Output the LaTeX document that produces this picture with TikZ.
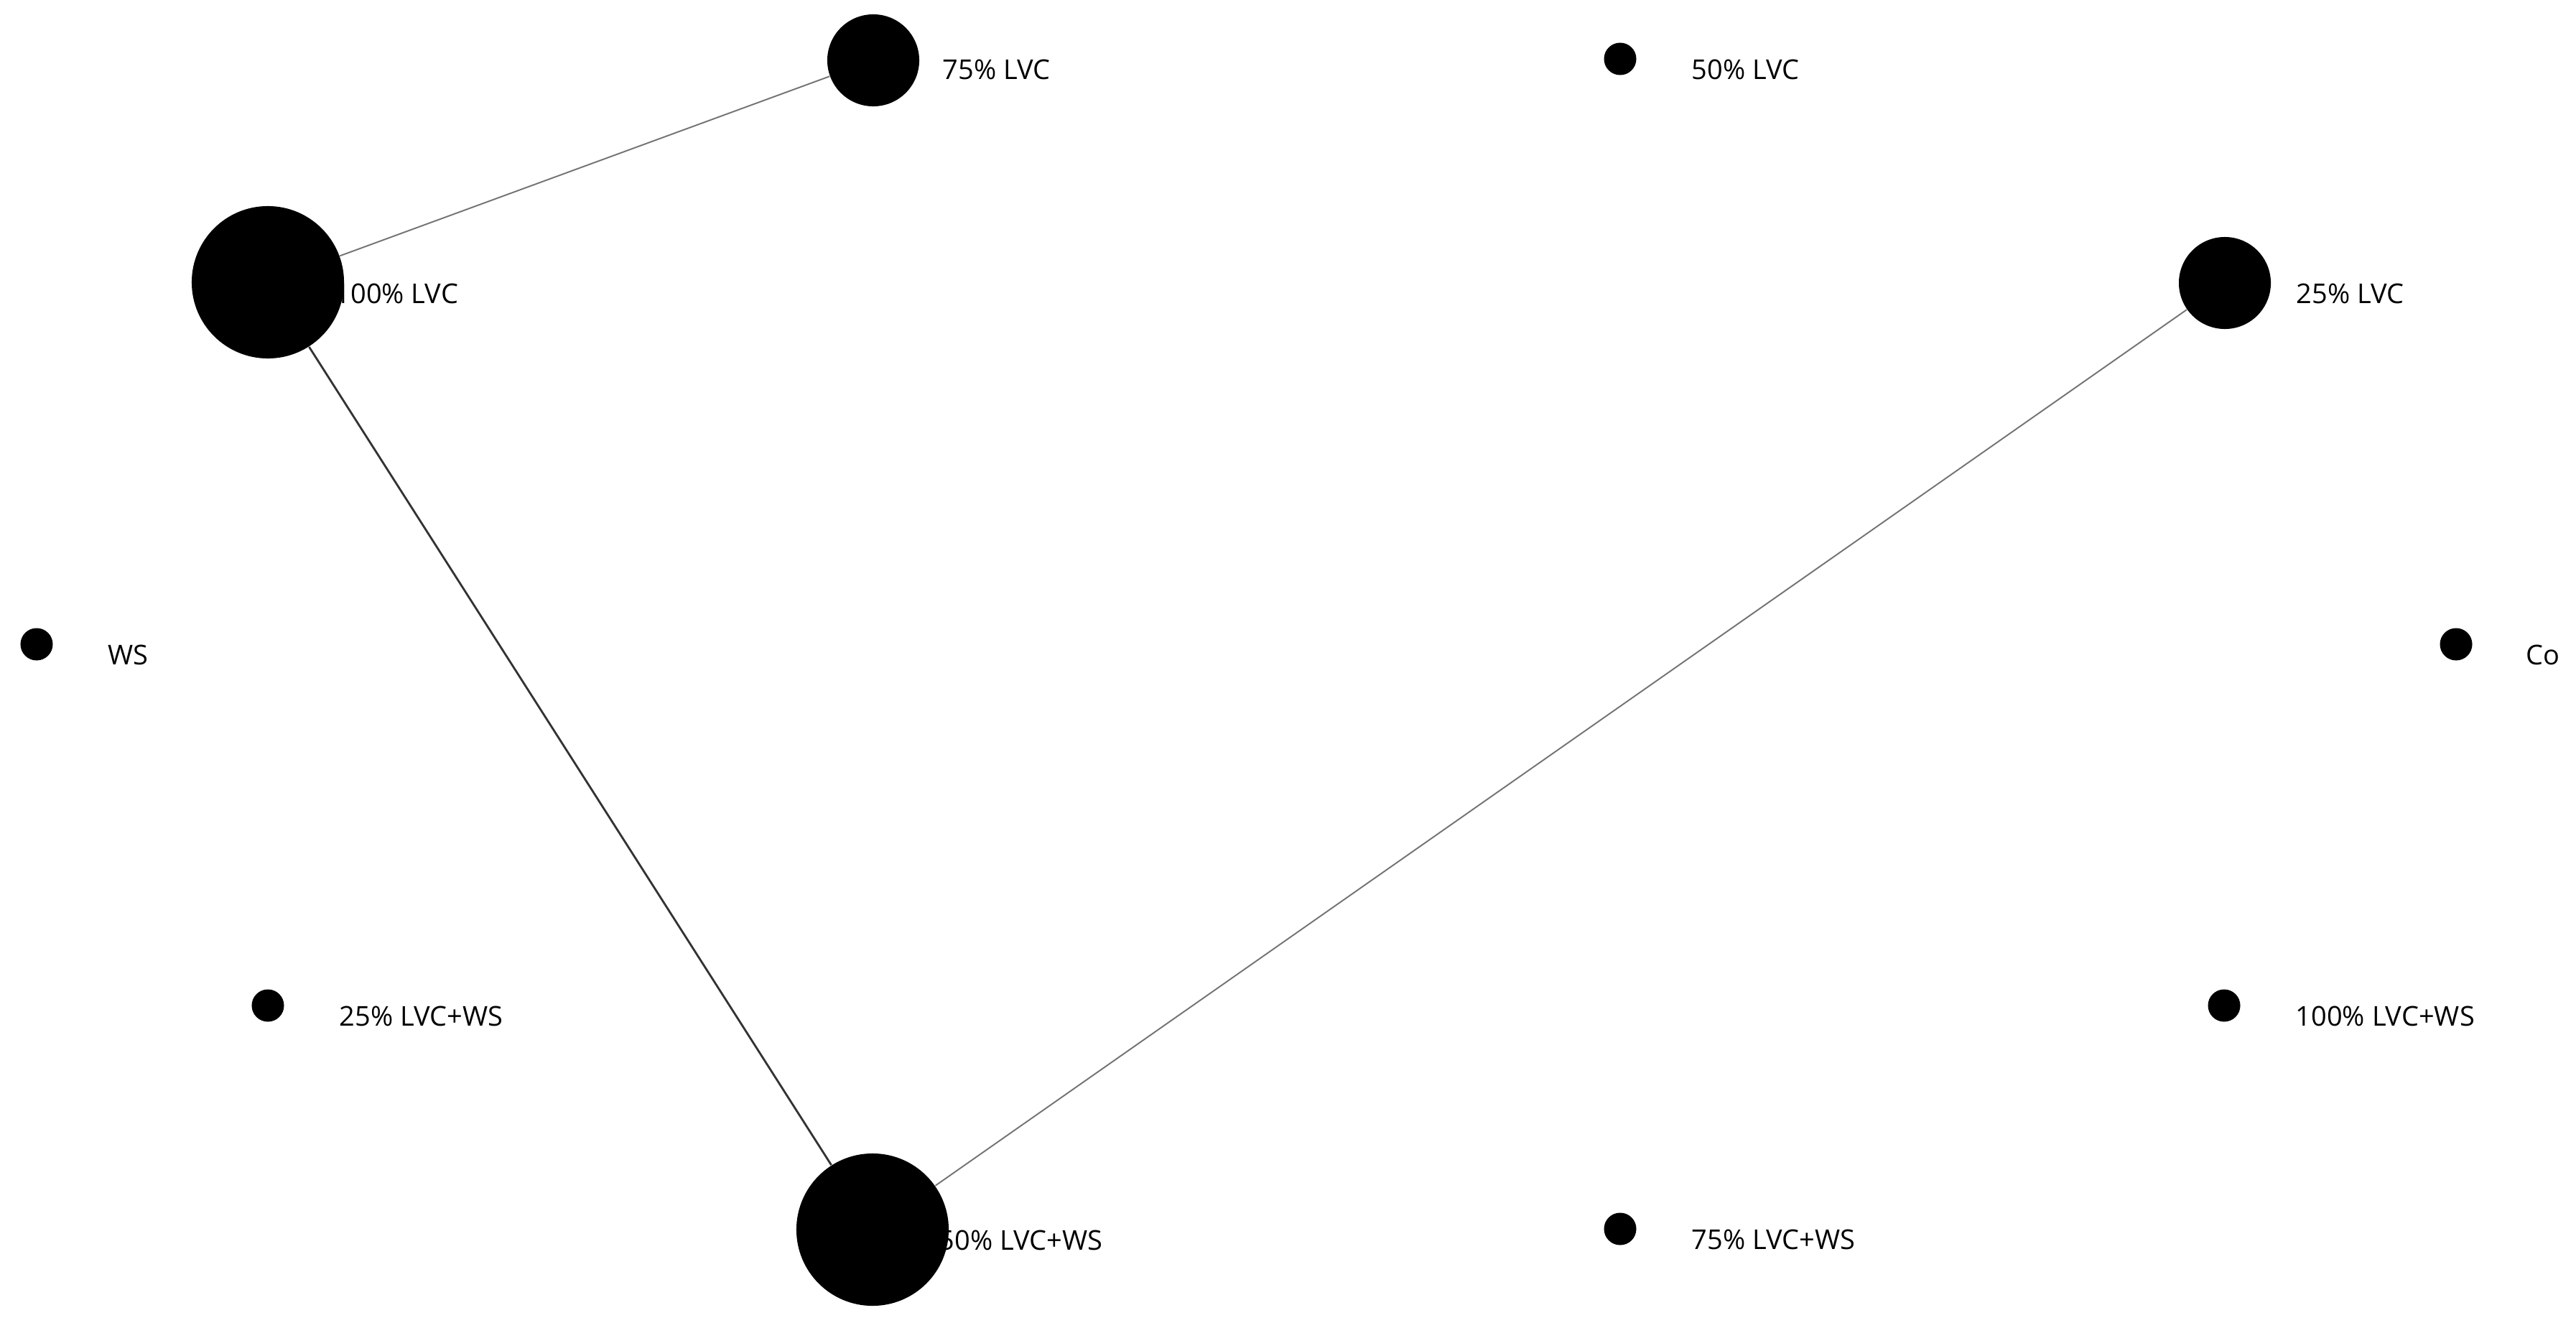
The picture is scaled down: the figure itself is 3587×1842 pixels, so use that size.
\documentclass[tikz,border=0pt]{standalone}
\usepackage{fontspec}
\setmainfont{Open Sans}
\usetikzlibrary{calc,backgrounds}
\begin{document}
\begin{tikzpicture}[x=0.01cm,y=-0.01cm,
  dot/.style={circle,fill=black,draw=none,inner sep=0pt},
  big/.style={dot,minimum size=2.12cm},
  mid/.style={dot,minimum size=1.28cm},
  small/.style={dot,minimum size=0.45cm},
  lbl/.style={anchor=base west,inner sep=0pt,font=\fontsize{10.8}{13}\selectfont},
  thinedge/.style={draw=black!55,line width=0.55pt},
  darkedge/.style={draw=black!80,line width=0.8pt}]
\useasboundingbox (0,0) rectangle (3587,1842);
% nodes
\node[big]   (n100)  at (373,393)  {};
\node[mid]   (n75)   at (1216,84)  {};
\node[small] (n50)   at (2256,82)  {};
\node[mid]   (n25)   at (3098,394) {};
\node[small] (nws)   at (51,897)   {};
\node[small] (nco)   at (3420,897) {};
\node[small] (n25ws) at (373,1400) {};
\node[small] (n100ws) at (3097,1400) {};
\node[small] (n75ws) at (2256,1711) {};
\node[big]   (n50ws) at (1215,1712) {};
% labels behind the circles
\begin{scope}[on background layer]
\node[lbl] (l100)  at ($(n100)+(93,29)$)   {100\% LVC};
\node[lbl] (l75)   at ($(n75)+(96,26)$)    {75\% LVC};
\node[lbl] (l50)   at ($(n50)+(99,28)$)    {50\% LVC};
\node[lbl] (l25)   at ($(n25)+(99,28)$)    {25\% LVC};
\node[lbl] (lws)   at ($(nws)+(99,28)$)    {WS};
\node[lbl] (lco)   at ($(nco)+(97,28)$)    {Co};
\node[lbl] (l25ws) at ($(n25ws)+(99,28)$)  {25\% LVC+WS};
\node[lbl] (l100ws) at ($(n100ws)+(99,28)$) {100\% LVC+WS};
\node[lbl] (l75ws) at ($(n75ws)+(99,28)$)  {75\% LVC+WS};
\node[lbl] (l50ws) at ($(n50ws)+(92,28)$)  {50\% LVC+WS};
\end{scope}
% edges
\draw[thinedge] (n100) -- (n75);
\draw[darkedge] (n100) -- (n50ws);
\draw[thinedge] (n25) -- (n50ws);
\end{tikzpicture}
\end{document}
